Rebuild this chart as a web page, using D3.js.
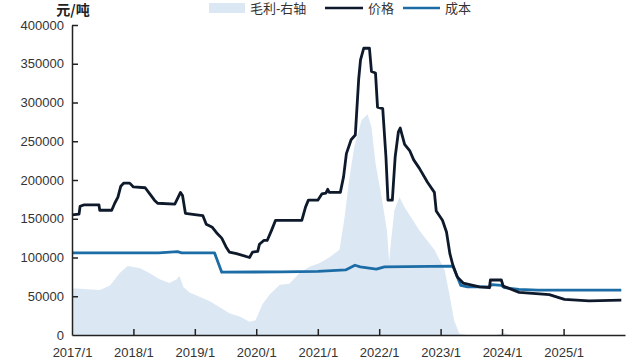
<!DOCTYPE html>
<html>
<head>
<meta charset="utf-8">
<script src="https://cdn.jsdelivr.net/npm/d3@7"></script>
<style>
  body { margin: 0; background: #fff; }
  text { font-family: "Liberation Sans", "Noto Sans CJK SC", sans-serif; }
</style>
</head>
<body>
<svg width="640" height="364"></svg>
<script>
// data
var priceDates = ["2017-01-01","2017-02-12","2017-02-18","2017-03-15","2017-06-10","2017-06-15","2017-08-25","2017-09-12","2017-10-01","2017-10-18","2017-11-05","2017-12-10",
  "2018-01-01","2018-03-12","2018-04-05","2018-05-06","2018-05-25","2018-09-04","2018-09-20","2018-10-08","2018-10-20","2018-11-06",
  "2019-01-12","2019-02-18","2019-03-10","2019-04-15","2019-05-10","2019-06-10","2019-07-05","2019-07-25","2019-09-06","2019-11-22","2019-12-10",
  "2020-01-10","2020-01-20","2020-02-15","2020-03-06","2020-04-01","2020-04-25","2020-09-28","2020-10-20","2020-11-06",
  "2021-01-01","2021-01-25","2021-02-18","2021-03-01","2021-03-10","2021-05-15","2021-06-03","2021-06-20","2021-07-18","2021-08-12","2021-09-01","2021-09-12","2021-10-01","2021-11-04","2021-11-16","2021-12-10","2021-12-22",
  "2022-01-22","2022-02-10","2022-02-22","2022-03-20","2022-04-06","2022-04-25","2022-05-06","2022-06-01","2022-07-01","2022-07-25","2022-08-28","2022-10-15","2022-11-25","2022-12-06",
  "2023-01-12","2023-02-05","2023-02-25","2023-03-15","2023-04-10","2023-05-15","2023-08-20","2023-10-18","2023-10-24","2023-12-28",
  "2024-01-08","2024-04-12","2024-10-08","2025-01-06","2025-06-01","2025-12-10"];
var priceValues = [155000,156000,166000,168000,168000,161000,161000,170000,178000,192000,196000,196000,
  191000,190000,183000,174000,170000,169000,176000,184000,180000,157000,
  155000,154000,143000,139000,132000,125000,114000,107000,105000,100000,107000,
  108000,117000,122000,122000,135000,148000,148000,165000,174000,
  174000,182000,183000,188000,184000,184000,204000,234000,252000,258000,330000,355000,370000,370000,340000,338000,294000,
  292000,230000,174000,174000,230000,262000,267000,246000,238000,226000,215000,197000,184000,160000,
  148000,133000,105000,90000,75000,67000,62000,61000,71000,71000,
  63000,55000,52000,46000,44000,45000];

var costDates = ["2017-01-01","2018-06-01","2018-09-20","2018-10-15","2019-04-28","2019-06-10","2020-06-01","2021-01-01","2021-06-15","2021-08-10","2021-09-10","2021-12-15","2022-02-01",
  "2023-03-15","2023-05-01","2023-06-10","2023-10-18","2023-11-01","2023-12-28","2024-01-15","2024-04-10","2024-08-01","2025-12-10"];
var costValues = [106000,106000,107500,106000,106000,81000,81500,82000,84000,90000,88000,85000,88000,
  89000,64000,62000,62000,65000,64000,61000,59000,58000,58000];

var marginDates = ["2017-01-01","2017-01-25","2017-06-15","2017-08-15","2017-10-12","2017-11-28","2018-02-10","2018-04-06","2018-06-06","2018-08-03","2018-09-15","2018-10-02","2018-10-25","2018-12-01",
  "2019-02-01","2019-03-28","2019-05-27","2019-07-25","2019-09-25","2019-11-22","2019-12-28","2020-02-08","2020-03-20","2020-05-20","2020-07-16","2020-09-15","2020-11-12",
  "2021-01-12","2021-03-10","2021-05-10","2021-06-08","2021-07-06","2021-08-06","2021-09-18","2021-10-24","2021-11-16","2021-12-10",
  "2022-01-15","2022-02-16","2022-03-01","2022-03-12","2022-04-01","2022-05-01","2022-06-01","2022-08-28","2022-11-25",
  "2023-01-25","2023-02-25","2023-03-22","2023-04-22","2023-06-01","2023-12-01","2024-01-10","2024-02-20","2025-12-10"];
var marginValues = [60000,60000,58000,64000,80000,89000,86000,80000,72000,67000,72000,76000,62000,55000,
  49000,44000,36000,28000,24000,17000,19000,40000,52000,65000,66000,80000,88000,
  93000,100000,110000,150000,200000,243000,277000,285000,268000,222000,
  178000,135000,95000,120000,161000,178000,165000,135000,110000,
  84000,49000,19000,2000,0,0,3000,0,0];

var xTickLabels = ["2017/1","2018/1","2019/1","2020/1","2021/1","2022/1","2023/1","2024/1","2025/1"];
var yTicks = [0,50000,100000,150000,200000,250000,300000,350000,400000];

var svg = d3.select("svg");
// plot box in pixels (not named top/left: those clash with window globals)
var plotL = 72, plotR = 625, plotT = 25, plotB = 335;

var parseDay = d3.timeParse("%Y-%m-%d");
var parseTick = d3.timeParse("%Y/%m");

function zip(ds, vs) {
  return ds.map(function (d, i) { return { date: parseDay(d), value: vs[i] }; });
}
var price = zip(priceDates, priceValues);
var cost = zip(costDates, costValues);
var margin = zip(marginDates, marginValues);

var x = d3.scaleTime()
  .domain([parseDay("2017-01-01"), parseDay("2026-01-01")])
  .range([plotL, plotR]);
var y = d3.scaleLinear().domain([0, 400000]).range([plotB, plotT]);
// margin is on a right axis that is not drawn, same scale
var yR = d3.scaleLinear().domain([0, 400000]).range([plotB, plotT]);

// margin area
svg.append("path")
  .datum(margin)
  .attr("fill", "#dce7f4")
  .attr("d", d3.area()
    .x(function (d) { return x(d.date); })
    .y0(yR(0))
    .y1(function (d) { return yR(d.value); }));

var line = d3.line()
  .x(function (d) { return x(d.date); })
  .y(function (d) { return y(d.value); });

svg.append("path")
  .datum(cost)
  .attr("fill", "none")
  .attr("stroke", "#1c6da6")
  .attr("stroke-width", 2.8)
  .attr("stroke-linejoin", "round")
  .attr("d", line);

svg.append("path")
  .datum(price)
  .attr("fill", "none")
  .attr("stroke", "#0e1a2c")
  .attr("stroke-width", 2.8)
  .attr("stroke-linejoin", "round")
  .attr("d", line);

// axes
var xAxis = svg.append("g")
  .attr("transform", "translate(0," + plotB + ")")
  .call(d3.axisBottom(x)
    .tickValues(xTickLabels.map(parseTick))
    .tickFormat(d3.timeFormat("%Y/%-m"))
    .tickSizeInner(-6).tickSizeOuter(0).tickPadding(13));

var yAxis = svg.append("g")
  .attr("transform", "translate(" + plotL + ",0)")
  .call(d3.axisLeft(y)
    .tickValues(yTicks)
    .tickFormat(d3.format("d"))
    .tickSizeInner(-6).tickSizeOuter(0).tickPadding(8));

[xAxis, yAxis].forEach(function (a) {
  a.select(".domain").attr("stroke", "#222").attr("stroke-width", 1.5);
  a.selectAll(".tick line").attr("stroke", "#222").attr("stroke-width", 1.5);
  a.selectAll(".tick text").attr("fill", "#333").style("font-size", "13px");
});
xAxis.selectAll(".tick").filter(function (d, i) { return i === 0; }).select("line").remove();
yAxis.selectAll(".tick").filter(function (d) { return d === 0; }).select("line").remove();

// unit title
svg.append("text")
  .attr("x", 73).attr("y", 15)
  .attr("text-anchor", "middle")
  .attr("fill", "#222")
  .style("font-size", "14px")
  .style("font-weight", "bold")
  .style("font-family", "Noto Sans CJK SC")
  .text("元/吨");

// legend
var legend = svg.append("g").style("font-size", "13px").style("font-family", "Noto Sans CJK SC");
legend.append("rect").attr("x", 209).attr("y", 3).attr("width", 36).attr("height", 10).attr("fill", "#dce7f4");
legend.append("text").attr("x", 250).attr("y", 13).attr("fill", "#333").text("毛利-右轴");
legend.append("line").attr("x1", 325).attr("x2", 363).attr("y1", 8).attr("y2", 8).attr("stroke", "#0e1a2c").attr("stroke-width", 2.6);
legend.append("text").attr("x", 368).attr("y", 13).attr("fill", "#333").text("价格");
legend.append("line").attr("x1", 403).attr("x2", 440).attr("y1", 8).attr("y2", 8).attr("stroke", "#1c6da6").attr("stroke-width", 2.6);
legend.append("text").attr("x", 445).attr("y", 13).attr("fill", "#333").text("成本");
</script>
</body>
</html>
